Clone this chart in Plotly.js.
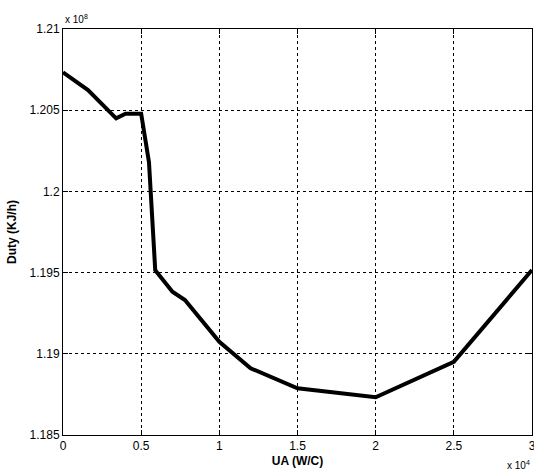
<!DOCTYPE html>
<html>
<head>
<meta charset="utf-8">
<script src="https://cdn.plot.ly/plotly-3.0.1.min.js"></script>
<style>html,body{margin:0;padding:0;background:#fff;}#chart{width:534px;height:475px;}</style>
</head>
<body>
<div id="chart"></div>
<script>
// UA in units of 1e4 W/C, Duty in units of 1e8 KJ/h
const uaValues = [0, 0.16, 0.34, 0.40, 0.5, 0.55, 0.59, 0.70, 0.78, 1.0, 1.2, 1.5, 2.0, 2.5, 3.0];
const dutyValues = [1.20733, 1.20624, 1.2045, 1.20478, 1.20478, 1.2018, 1.19515, 1.19382, 1.19331, 1.19074, 1.18911, 1.18788, 1.18732, 1.18951, 1.19516];
const xTicks = [0, 0.5, 1, 1.5, 2, 2.5, 3];
const yTicks = [1.185, 1.19, 1.195, 1.2, 1.205, 1.21];

const axisCommon = {
  showgrid: true, gridcolor: '#000', griddash: 'dot', gridwidth: 1,
  showline: true, linecolor: '#000', linewidth: 1, mirror: 'ticks',
  ticks: 'inside', ticklen: 5, tickcolor: '#000', ticklabeloverflow: 'allow',
  zeroline: false, tickfont: {family: 'Liberation Sans, Arial, sans-serif', size: 12, color: '#000'}
};

Plotly.newPlot('chart', [{
  x: uaValues, y: dutyValues, type: 'scatter', mode: 'lines',
  line: {color: '#000', width: 4}
}], {
  width: 534, height: 475,
  margin: {l: 63, r: 2, t: 29, b: 40},
  paper_bgcolor: '#fff', plot_bgcolor: '#fff',
  showlegend: false,
  xaxis: Object.assign({}, axisCommon, {
    range: [0, 3], tickvals: xTicks, ticktext: xTicks.map(String),
    title: {text: '<b>UA (W/C)</b>', standoff: 4, font: {family: 'Liberation Sans, Arial, sans-serif', size: 12, color: '#000'}}
  }),
  yaxis: Object.assign({}, axisCommon, {
    range: [1.185, 1.21], tickvals: yTicks, ticktext: yTicks.map(String),
    title: {text: '<b>Duty (KJ/h)</b>', standoff: 10, font: {family: 'Liberation Sans, Arial, sans-serif', size: 12, color: '#000'}}
  }),
  annotations: [
    {xref: 'paper', yref: 'paper', x: 0, y: 1, xanchor: 'left', yanchor: 'bottom', yshift: 2,
     text: 'x 10<sup>8</sup>', showarrow: false, font: {family: 'Liberation Sans, Arial, sans-serif', size: 10, color: '#000'}},
    {xref: 'paper', yref: 'paper', x: 1, y: 0, xanchor: 'right', yanchor: 'top', yshift: -22,
     text: 'x 10<sup>4</sup>', showarrow: false, font: {family: 'Liberation Sans, Arial, sans-serif', size: 10, color: '#000'}}
  ]
}, {staticPlot: true});
</script>
</body>
</html>
